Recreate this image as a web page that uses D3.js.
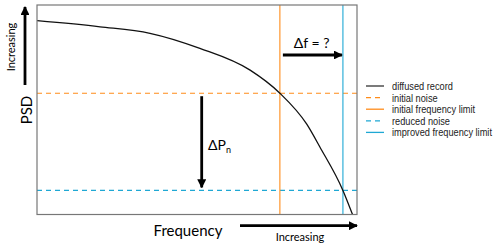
<!DOCTYPE html>
<html>
<head>
<meta charset="utf-8">
<script src="https://cdn.jsdelivr.net/npm/d3@7"></script>
<style>
  body { margin: 0; background: #fff; }
  svg { display: block; }
</style>
</head>
<body>
<div id="chart"></div>
<script>
// curve of the diffused record (frequency 0-100, psd 0-100, arbitrary units)
var freq = [0, 19.7, 35.3, 50.9, 66.6, 75.9, 84.3, 88.4, 95.6, 98.6];
var psd  = [92.5, 89.6, 86.5, 79.3, 68.9, 57.9, 43.1, 32.2, 11.5, 0];

var noiseLevels = [57.9, 11.5];      // initial noise, reduced noise
var freqLimits  = [75.9, 95.6];      // initial limit, improved limit

var legendLabels = ["diffused record", "initial noise", "initial frequency limit",
                    "reduced noise", "improved frequency limit"];

var orange = "#ff8c1a", blue = "#1fa8d4";

var width = 500, height = 248;
var margin = {top: 5, right: 143, bottom: 33.5, left: 37};

var svg = d3.select("#chart").append("svg")
    .attr("width", width)
    .attr("height", height);

var x = d3.scaleLinear().domain([0, 100]).range([margin.left, width - margin.right]);
var y = d3.scaleLinear().domain([0, 100]).range([height - margin.bottom, margin.top]);

var defs = svg.append("defs");
defs.append("marker")
    .attr("id", "head")
    .attr("viewBox", "0 0 10 10")
    .attr("refX", 9).attr("refY", 5)
    .attr("markerWidth", 3.2).attr("markerHeight", 3.2)
    .attr("orient", "auto")
    .append("path")
    .attr("d", "M0,0 L10,5 L0,10 z")
    .attr("fill", "#000");

// noise levels
svg.selectAll(".noise")
    .data(noiseLevels)
    .enter().append("line")
    .attr("class", "noise")
    .attr("x1", x(0)).attr("x2", x(100))
    .attr("y1", function(d) { return y(d); })
    .attr("y2", function(d) { return y(d); })
    .attr("stroke", function(d, i) { return i == 0 ? orange : blue; })
    .attr("stroke-width", 1.1)
    .attr("stroke-dasharray", "5,4");

// frequency limits
svg.selectAll(".flim")
    .data(freqLimits)
    .enter().append("line")
    .attr("class", "flim")
    .attr("x1", function(d) { return x(d); })
    .attr("x2", function(d) { return x(d); })
    .attr("y1", y(0)).attr("y2", y(100))
    .attr("stroke", function(d, i) { return i == 0 ? orange : blue; })
    .attr("stroke-width", 1.1);

// diffused record
var line = d3.line()
    .x(function(d) { return x(d[0]); })
    .y(function(d) { return y(d[1]); })
    .curve(d3.curveMonotoneX);

svg.append("path")
    .datum(d3.zip(freq, psd))
    .attr("d", line)
    .attr("fill", "none")
    .attr("stroke", "#111")
    .attr("stroke-width", 1.3);

// frame
svg.append("rect")
    .attr("x", x(0)).attr("y", y(100))
    .attr("width", x(100) - x(0))
    .attr("height", y(0) - y(100))
    .attr("fill", "none")
    .attr("stroke", "#777")
    .attr("stroke-width", 1.2);

function arrow(x1, y1, x2, y2) {
    svg.append("line")
        .attr("x1", x1).attr("y1", y1)
        .attr("x2", x2).attr("y2", y2)
        .attr("stroke", "#000")
        .attr("stroke-width", 2.8)
        .attr("marker-end", "url(#head)");
}

// delta P arrow
arrow(201.7, y(noiseLevels[0]) + 3, 201.7, y(noiseLevels[1]) - 3);
svg.append("text")
    .attr("x", 208).attr("y", 150)
    .attr("font-family", "Lato, sans-serif")
    .attr("font-size", 14)
    .text("ΔP")
    .append("tspan")
    .attr("font-size", 9)
    .attr("dy", 3)
    .text("n");

// delta f arrow
arrow(x(freqLimits[0]) + 3, 55, x(freqLimits[1]) - 1, 55);
svg.append("text")
    .attr("x", 311.7).attr("y", 48)
    .attr("text-anchor", "middle")
    .attr("font-family", "Lato, sans-serif")
    .attr("font-size", 14)
    .text("Δf = ?");

// axis arrows & labels
arrow(25, 85, 25, 7);
svg.append("text")
    .attr("transform", "translate(15,47) rotate(-90)")
    .attr("text-anchor", "middle")
    .attr("font-family", "Lato, sans-serif")
    .attr("font-size", 11)
    .text("Increasing");
svg.append("text")
    .attr("transform", "translate(32,110) rotate(-90)")
    .attr("text-anchor", "middle")
    .attr("font-family", "Lato, sans-serif")
    .attr("font-size", 15)
    .text("PSD");

arrow(240, 225.7, 357, 225.7);
svg.append("text")
    .attr("x", 188).attr("y", 236)
    .attr("text-anchor", "middle")
    .attr("font-family", "Lato, sans-serif")
    .attr("font-size", 15)
    .text("Frequency");
svg.append("text")
    .attr("x", 300).attr("y", 241)
    .attr("text-anchor", "middle")
    .attr("font-family", "Lato, sans-serif")
    .attr("font-size", 11)
    .text("Increasing");

// legend
var legStyles = [
    {c: "#333", dash: null},
    {c: orange, dash: "5,4"},
    {c: orange, dash: null},
    {c: blue, dash: "5,4"},
    {c: blue, dash: null}
];

var legend = svg.append("g").attr("transform", "translate(366,86)");
var rows = legend.selectAll(".leg")
    .data(legendLabels)
    .enter().append("g")
    .attr("class", "leg")
    .attr("transform", function(d, i) { return "translate(0," + i * 11.6 + ")"; });

rows.append("line")
    .attr("x1", 0).attr("x2", 18)
    .attr("stroke", function(d, i) { return legStyles[i].c; })
    .attr("stroke-width", 1.3)
    .attr("stroke-dasharray", function(d, i) { return legStyles[i].dash; });

// narrow the legend labels a bit, they are condensed in the original
rows.append("text")
    .attr("transform", "translate(26,4) scale(0.84,1)")
    .attr("font-family", "'Liberation Sans', Arial, sans-serif")
    .attr("font-size", 11)
    .attr("fill", "#222")
    .text(function(d) { return d; });
</script>
</body>
</html>
